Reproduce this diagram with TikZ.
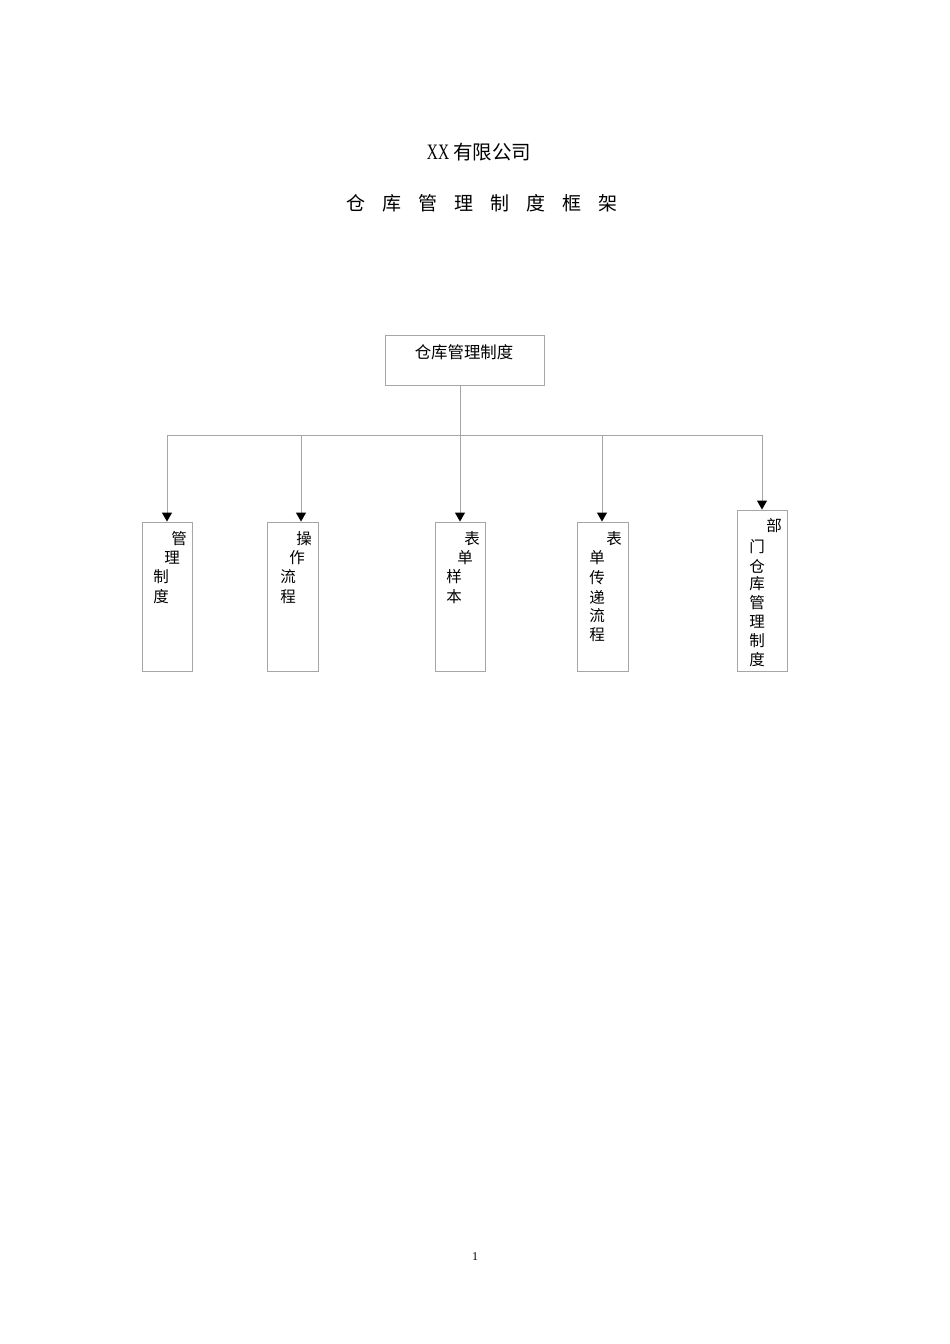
\documentclass[tikz,border=0pt]{standalone}
\usepackage{fontspec}
\setmainfont{Liberation Serif}
\newfontfamily\cjk{Noto Sans CJK SC}
\usetikzlibrary{arrows.meta}
\definecolor{linegray}{HTML}{A6A6A6}
\tikzset{
  box/.style={draw=linegray,line width=0.9pt,minimum width=50pt,inner sep=0pt},
  ch/.style={inner sep=0pt,font=\cjk\fontsize{15.5}{15.5}\selectfont},
  conn/.style={draw=linegray,line width=0.9pt},
  arr/.style={conn,-{Triangle[width=10pt,length=9pt,color=black]}},
  title/.style={inner sep=0pt}
}
\begin{document}
\begin{tikzpicture}[x=1pt,y=-1pt]
\useasboundingbox[fill=white] (0,0) rectangle (950,1344);
% titles
\node[title] (t1) at (479,152) {\scalebox{0.7}[1]{\fontsize{22}{22}\selectfont XX}\hspace{4pt}{\cjk\fontsize{19.5}{20}\selectfont 有限公司}};
\foreach \c [count=\i from 0] in {仓,库,管,理,制,度,框,架}
  \node[title,font=\cjk\fontsize{19}{19}\selectfont] (t2c\i) at ({356+36*\i},203) {\c};
% top box
\node[box,minimum width=159pt,minimum height=50pt] (top) at (464.5,360) {};
\node[inner sep=0pt,font=\cjk\fontsize{16.4}{16.4}\selectfont] (toptxt) at (464,352) {仓库管理制度};
% bottom boxes
\node[box,minimum height=149pt] (b1) at (167,596.5) {};
\node[box,minimum width=51pt,minimum height=149pt] (b2) at (292.5,596.5) {};
\node[box,minimum height=149pt] (b3) at (460,596.5) {};
\node[box,minimum width=51pt,minimum height=149pt] (b4) at (602.5,596.5) {};
\node[box,minimum height=161pt] (b5) at (762,590.5) {};
% connectors
\coordinate (jc) at (460,435);
\coordinate (j1) at (167,435);
\coordinate (j2) at (301,435);
\coordinate (j3) at (460,435);
\coordinate (j4) at (602,435);
\coordinate (j5) at (762,435);
\draw[conn] (top.south -| jc) -- (jc);
\draw[conn] (j1) -- (j5);
\draw[arr] (j1) -- (b1.north);
\draw[arr] (j2) -- (j2 |- b2.north);
\draw[arr] (j3) -- (b3.north);
\draw[arr] (j4) -- (j4 |- b4.north);
\draw[arr] (j5) -- (b5.north);
% box texts
\foreach \c/\x/\y [count=\i] in {管/179/539,理/172/558,制/161/577,度/161/597}
  \node[ch] (b1c\i) at (\x,\y) {\c};
\foreach \c/\x/\y [count=\i] in {操/304/539,作/297/558,流/288/577,程/288/597}
  \node[ch] (b2c\i) at (\x,\y) {\c};
\foreach \c/\x/\y [count=\i] in {表/472/539,单/465/558,样/454/577,本/454/597}
  \node[ch] (b3c\i) at (\x,\y) {\c};
\foreach \c/\x/\y [count=\i] in {表/614/539,单/597/558,传/597/578,递/597/597,流/597/616,程/597/635}
  \node[ch] (b4c\i) at (\x,\y) {\c};
\foreach \c/\x/\y [count=\i] in {部/774/526,门/757/547,仓/757/566,库/757/584,管/757/603,理/757/622,制/757/641,度/757/660}
  \node[ch] (b5c\i) at (\x,\y) {\c};
% page number
\node[inner sep=0pt,font=\fontsize{12}{12}\selectfont] (pg) at (475,1257) {1};
\end{tikzpicture}
\end{document}
